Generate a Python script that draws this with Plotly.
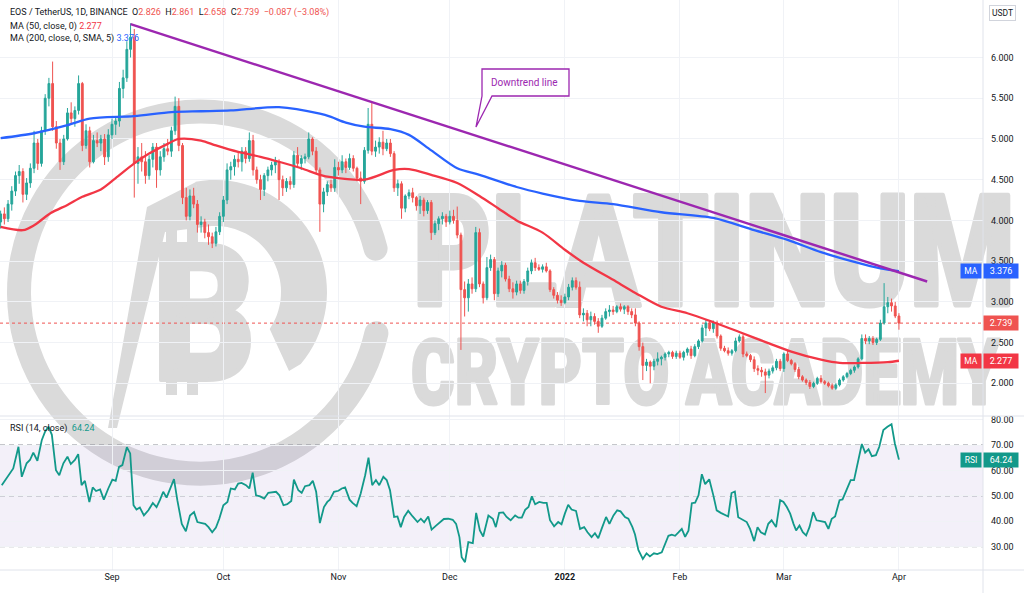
import base64
import numpy as np
import pandas as pd
import plotly.graph_objects as go

# ---------------- data ----------------
start_date = "2021-08-02"

opens = [3.98, 4.08, 4.02, 4.20, 4.36, 4.55, 4.60, 4.32, 4.46, 4.64,
         4.95, 4.70, 5.10, 5.50, 5.68, 5.15, 4.95, 4.72, 5.00, 5.32,
         5.25, 5.35, 5.68, 4.92, 5.10, 4.72, 4.98, 4.95, 5.00, 4.78,
         5.05, 5.18, 5.22, 5.62, 5.75, 6.10, 6.25, 4.70, 4.78, 4.72,
         4.55, 4.75, 4.90, 4.62, 4.78, 4.88, 4.85, 5.10, 5.40, 4.92,
         4.28, 4.05, 4.30, 4.20, 3.95, 3.98, 3.85, 3.80, 3.72, 3.86,
         4.05, 4.25, 4.62, 4.66, 4.75, 4.72, 4.85, 4.76, 4.98, 4.62,
         4.50, 4.38, 4.55, 4.62, 4.68, 4.72, 4.50, 4.40, 4.48, 4.44,
         4.80, 4.70, 4.76, 4.78, 5.00, 4.85, 4.62, 4.20, 4.35, 4.44,
         4.40, 4.65, 4.62, 4.72, 4.65, 4.76, 4.64, 4.52, 4.48, 4.86,
         5.18, 4.85, 4.90, 4.96, 4.88, 4.95, 4.82, 4.40, 4.45, 4.15,
         4.30, 4.34, 4.28, 4.18, 4.25, 4.12, 4.22, 3.85, 3.96, 4.02,
         4.05, 3.98, 4.05, 4.00, 3.82, 3.15, 3.05, 3.22, 3.16, 3.85,
         3.22, 3.05, 3.42, 3.52, 3.10, 3.38, 3.45, 3.28, 3.16, 3.12,
         3.22, 3.14, 3.25, 3.38, 3.48, 3.42, 3.40, 3.43, 3.38, 3.15,
         3.08, 3.02, 2.99, 3.06, 3.18, 3.26, 3.18, 2.84, 2.86, 2.78,
         2.82, 2.76, 2.70, 2.80, 2.88, 2.90, 2.88, 2.94, 2.91, 2.94,
         2.88, 2.84, 2.74, 2.45, 2.22, 2.26, 2.21, 2.27, 2.30, 2.32,
         2.36, 2.38, 2.33, 2.37, 2.32, 2.38, 2.42, 2.34, 2.45, 2.52,
         2.68, 2.74, 2.67, 2.74, 2.58, 2.43, 2.40, 2.37, 2.40, 2.52,
         2.57, 2.36, 2.34, 2.29, 2.18, 2.16, 2.14, 2.10, 2.15, 2.19,
         2.27, 2.18, 2.36, 2.28, 2.24, 2.17, 2.08, 2.04, 2.01, 1.96,
         2.00, 2.06, 2.02, 2.00, 1.97, 1.94, 1.98, 2.04, 2.08, 2.12,
         2.16, 2.20, 2.30, 2.55, 2.52, 2.55, 2.50, 2.54, 2.74, 2.94,
         2.99, 2.95, 2.826]

highs = [4.12, 4.16, 4.25, 4.42, 4.60, 4.68, 4.64, 4.52, 4.70, 5.10,
         5.00, 5.15, 5.55, 5.75, 5.95, 5.22, 5.00, 5.05, 5.38, 5.45,
         5.40, 5.78, 5.70, 5.18, 5.15, 5.05, 5.08, 5.05, 5.06, 5.12,
         5.25, 5.28, 5.70, 5.85, 6.20, 6.42, 6.35, 4.90, 4.95, 4.85,
         4.80, 4.95, 4.95, 4.85, 4.95, 5.00, 5.15, 5.52, 5.50, 4.95,
         4.40, 4.38, 4.40, 4.25, 4.05, 4.02, 3.95, 3.85, 3.92, 4.10,
         4.30, 4.70, 4.72, 4.80, 4.85, 4.90, 4.90, 5.08, 5.05, 4.66,
         4.56, 4.58, 4.66, 4.72, 4.78, 4.75, 4.55, 4.52, 4.54, 4.85,
         4.90, 4.80, 4.82, 5.08, 5.02, 4.90, 4.65, 4.40, 4.48, 4.50,
         4.75, 4.72, 4.80, 4.76, 4.82, 4.80, 4.66, 4.60, 4.90, 5.38,
         5.44, 4.98, 5.02, 5.10, 5.00, 5.00, 4.85, 4.50, 4.48, 4.32,
         4.38, 4.40, 4.30, 4.30, 4.28, 4.25, 4.25, 4.00, 4.05, 4.10,
         4.08, 4.12, 4.13, 4.17, 3.85, 3.25, 3.28, 3.30, 3.92, 3.90,
         3.25, 3.55, 3.58, 3.55, 3.42, 3.50, 3.48, 3.32, 3.24, 3.26,
         3.26, 3.28, 3.42, 3.52, 3.54, 3.46, 3.46, 3.48, 3.40, 3.18,
         3.12, 3.08, 3.10, 3.22, 3.30, 3.30, 3.25, 2.92, 2.90, 2.88,
         2.86, 2.80, 2.84, 2.92, 2.96, 2.95, 2.96, 2.98, 2.96, 2.96,
         2.92, 2.92, 2.76, 2.50, 2.30, 2.28, 2.30, 2.38, 2.34, 2.38,
         2.40, 2.40, 2.40, 2.40, 2.40, 2.44, 2.46, 2.48, 2.54, 2.72,
         2.78, 2.76, 2.77, 2.77, 2.60, 2.46, 2.44, 2.42, 2.56, 2.60,
         2.60, 2.39, 2.36, 2.33, 2.22, 2.20, 2.18, 2.18, 2.22, 2.30,
         2.30, 2.38, 2.40, 2.30, 2.26, 2.20, 2.10, 2.06, 2.04, 2.02,
         2.08, 2.10, 2.04, 2.02, 2.00, 2.00, 2.06, 2.10, 2.14, 2.18,
         2.22, 2.32, 2.60, 2.60, 2.58, 2.58, 2.56, 2.78, 3.23, 3.06,
         3.04, 3.00, 2.861]

lows = [3.90, 3.95, 3.98, 4.12, 4.30, 4.45, 4.22, 4.25, 4.40, 4.58,
        4.62, 4.66, 5.05, 5.40, 5.10, 4.88, 4.62, 4.68, 4.98, 5.18,
        5.15, 5.30, 4.85, 4.88, 4.65, 4.70, 4.90, 4.85, 4.68, 4.72,
        5.00, 5.05, 5.15, 5.50, 5.70, 6.00, 4.28, 4.45, 4.60, 4.45,
        4.50, 4.65, 4.40, 4.55, 4.72, 4.80, 4.78, 5.05, 4.85, 4.20,
        4.00, 4.00, 4.15, 3.85, 3.85, 3.78, 3.70, 3.66, 3.68, 3.82,
        3.98, 4.20, 4.50, 4.55, 4.65, 4.60, 4.70, 4.72, 4.55, 4.45,
        4.25, 4.30, 4.48, 4.55, 4.58, 4.25, 4.30, 4.35, 4.38, 4.40,
        4.65, 4.62, 4.70, 4.75, 4.80, 4.58, 3.86, 4.10, 4.30, 4.35,
        4.35, 4.55, 4.58, 4.58, 4.62, 4.60, 4.48, 4.20, 4.45, 4.82,
        4.80, 4.78, 4.82, 4.80, 4.85, 4.78, 4.35, 4.30, 4.02, 4.10,
        4.26, 4.22, 4.12, 4.08, 4.05, 4.08, 3.76, 3.82, 3.88, 3.95,
        3.92, 3.95, 3.96, 3.78, 2.41, 2.82, 2.88, 3.10, 3.12, 3.18,
        2.98, 3.02, 3.38, 3.02, 3.06, 3.30, 3.25, 3.12, 3.04, 3.08,
        3.10, 3.10, 3.20, 3.34, 3.38, 3.38, 3.36, 3.36, 3.12, 3.04,
        2.98, 2.95, 2.97, 3.02, 3.14, 3.15, 2.80, 2.76, 2.70, 2.70,
        2.72, 2.62, 2.68, 2.78, 2.82, 2.84, 2.86, 2.88, 2.85, 2.84,
        2.80, 2.70, 2.40, 2.04, 2.15, 2.00, 2.16, 2.22, 2.22, 2.28,
        2.32, 2.30, 2.30, 2.30, 2.28, 2.34, 2.30, 2.32, 2.42, 2.50,
        2.58, 2.64, 2.62, 2.55, 2.40, 2.38, 2.34, 2.34, 2.38, 2.50,
        2.32, 2.32, 2.26, 2.14, 2.10, 2.08, 1.88, 2.06, 2.12, 2.16,
        2.15, 2.14, 2.26, 2.22, 2.14, 2.05, 2.02, 1.98, 1.93, 1.94,
        1.98, 2.00, 1.98, 1.95, 1.92, 1.92, 1.96, 2.02, 2.06, 2.10,
        2.13, 2.18, 2.28, 2.48, 2.48, 2.47, 2.47, 2.52, 2.72, 2.86,
        2.88, 2.80, 2.658]

closes = [4.08, 4.02, 4.20, 4.36, 4.55, 4.60, 4.32, 4.46, 4.64, 4.95,
          4.70, 5.10, 5.50, 5.68, 5.15, 4.95, 4.72, 5.00, 5.32, 5.25,
          5.35, 5.68, 4.92, 5.10, 4.72, 4.98, 4.95, 5.00, 4.78, 5.05,
          5.18, 5.22, 5.62, 5.75, 6.10, 6.25, 4.70, 4.78, 4.72, 4.55,
          4.75, 4.90, 4.62, 4.78, 4.88, 4.85, 5.10, 5.40, 4.92, 4.28,
          4.05, 4.30, 4.20, 3.95, 3.98, 3.85, 3.80, 3.72, 3.86, 4.05,
          4.25, 4.62, 4.66, 4.75, 4.72, 4.85, 4.76, 4.98, 4.62, 4.50,
          4.38, 4.55, 4.62, 4.68, 4.72, 4.50, 4.40, 4.48, 4.44, 4.80,
          4.70, 4.76, 4.78, 5.00, 4.85, 4.62, 4.20, 4.35, 4.44, 4.40,
          4.65, 4.62, 4.72, 4.65, 4.76, 4.64, 4.52, 4.48, 4.86, 5.18,
          4.85, 4.90, 4.96, 4.88, 4.95, 4.82, 4.40, 4.45, 4.15, 4.30,
          4.34, 4.28, 4.18, 4.25, 4.12, 4.22, 3.85, 3.96, 4.02, 4.05,
          3.98, 4.05, 4.00, 3.82, 3.15, 3.05, 3.22, 3.16, 3.85, 3.22,
          3.05, 3.42, 3.52, 3.10, 3.38, 3.45, 3.28, 3.16, 3.12, 3.22,
          3.14, 3.25, 3.38, 3.48, 3.42, 3.40, 3.43, 3.38, 3.15, 3.08,
          3.02, 2.99, 3.06, 3.18, 3.26, 3.18, 2.84, 2.86, 2.78, 2.82,
          2.76, 2.70, 2.80, 2.88, 2.90, 2.88, 2.94, 2.91, 2.94, 2.88,
          2.84, 2.74, 2.45, 2.22, 2.26, 2.21, 2.27, 2.30, 2.32, 2.36,
          2.38, 2.33, 2.37, 2.32, 2.38, 2.42, 2.34, 2.45, 2.52, 2.68,
          2.74, 2.67, 2.74, 2.58, 2.43, 2.40, 2.37, 2.40, 2.52, 2.57,
          2.36, 2.34, 2.29, 2.18, 2.16, 2.14, 2.10, 2.15, 2.19, 2.27,
          2.18, 2.36, 2.28, 2.24, 2.17, 2.08, 2.04, 2.01, 1.96, 2.00,
          2.06, 2.02, 2.00, 1.97, 1.94, 1.98, 2.04, 2.08, 2.12, 2.16,
          2.20, 2.30, 2.55, 2.52, 2.55, 2.50, 2.54, 2.74, 2.94, 2.99,
          2.95, 2.826, 2.739]

# moving averages, sampled along the drawn curves (day offset from start_date, value)
ma50_day = [0, 6, 9, 13.5, 18, 22, 27, 31, 36, 40, 45, 48, 54, 58, 64, 70, 75, 81, 86, 89,
            98, 106, 110, 116, 123, 129, 134, 139, 146, 152, 157, 165, 171, 178, 185, 192,
            199, 207, 213, 221, 226, 232, 239, 242]
ma50_val = [3.92, 3.88, 3.94, 4.09, 4.19, 4.29, 4.38, 4.52, 4.70, 4.82, 4.94, 5.00, 4.98, 4.92,
            4.84, 4.78, 4.72, 4.64, 4.56, 4.53, 4.50, 4.62, 4.63, 4.56, 4.46, 4.30, 4.15, 4.00,
            3.85, 3.64, 3.48, 3.27, 3.11, 2.94, 2.86, 2.75, 2.63, 2.49, 2.39, 2.29, 2.25, 2.25,
            2.26, 2.277]

ma200_day = [0, 9, 18, 24, 36, 46, 54, 62, 75, 86, 89, 93, 98, 105, 110, 116, 123, 129, 139,
             146, 156, 165, 178, 192, 203, 212, 221, 230, 237, 242]
ma200_val = [5.01, 5.07, 5.17, 5.25, 5.28, 5.33, 5.34, 5.35, 5.39, 5.31, 5.27, 5.20, 5.15, 5.12,
             5.05, 4.86, 4.64, 4.56, 4.41, 4.33, 4.24, 4.20, 4.10, 4.03, 3.88, 3.76, 3.61, 3.49,
             3.41, 3.376]

# RSI(14) line, sampled along the drawn curve
rsi_day = [0.3, 1.6, 3.4, 4.8, 5.7, 7.0, 7.9, 8.8, 9.9, 11.1,
           12.0, 12.9, 13.8, 14.9, 15.8, 16.9, 18.0, 18.9, 20.0, 20.9,
           21.8, 22.7, 23.9, 24.8, 25.7, 26.8, 27.8, 29.0, 30.1, 31.0,
           31.9, 32.8, 34.0, 34.9, 35.8, 36.6, 37.5, 38.6, 39.8, 41.0,
           42.0, 42.9, 43.8, 44.7, 45.6, 46.7, 47.6, 48.8, 49.9, 51.0,
           52.1, 53.0, 54.2, 55.1, 56.0, 57.0, 58.0, 58.9, 60.0, 61.1,
           62.0, 63.1, 64.0, 64.9, 66.1, 67.0, 67.9, 68.8, 69.9, 71.0,
           72.1, 73.3, 74.2, 75.1, 76.2, 77.2, 78.3, 79.0, 80.2, 81.1,
           82.0, 83.2, 84.1, 85.0, 86.0, 87.1, 88.0, 88.7, 89.8, 91.0,
           91.9, 92.8, 94.0, 94.8, 95.9, 97.0, 98.2, 99.1, 100.1, 101.1,
           102.0, 103.1, 104.0, 104.9, 106.0, 106.9, 107.8, 108.7, 109.8, 111.0,
           112.3, 113.2, 114.1, 115.2, 116.1, 117.3, 118.4, 119.4, 120.6, 121.8,
           122.7, 123.6, 124.2, 125.1, 126.0, 127.2, 128.1, 129.1, 130.0, 131.4,
           132.6, 133.4, 134.3, 135.4, 136.3, 137.4,
           138.6, 139.5, 140.4, 141.3, 142.2, 143.1, 144.0, 145.1, 146.2, 147.1,
           148.0, 149.1, 150.2, 151.1, 152.0, 152.9, 153.8, 155.0, 156.1, 157.2,
           158.1, 159.2, 160.1, 161.0, 161.9, 163.1, 164.0, 165.1, 166.1, 167.0,
           168.2, 169.1, 170.2, 170.9, 171.8, 173.0, 174.0, 174.9, 176.0, 176.9,
           178.1, 179.0, 179.9, 180.8, 181.7, 182.6, 183.5, 184.4, 185.3, 186.2,
           187.1, 188.0, 188.9, 189.8, 190.9, 192.0, 192.9, 194.0, 194.9, 196.0,
           196.9, 197.8, 198.7, 199.9, 201.0, 201.9, 203.0, 203.9, 204.8, 205.9,
           206.8, 207.7, 208.9, 210.0, 210.9, 211.8, 212.7, 213.6, 214.3, 215.2,
           216.1, 217.0, 217.9, 218.9, 219.8, 220.9, 222.1, 223.0, 223.9, 224.8,
           226.0, 226.8, 227.9, 229.0, 229.9, 230.8, 232.0, 232.9, 233.8, 234.7,
           235.8, 236.7, 237.8, 238.9, 240.0, 240.9, 242.0]
rsi_val = [54.2, 56.8, 60.8, 69.3, 57.5, 62.8, 64.1, 67.0, 63.8, 72.0,
           75.3, 77.2, 74.0, 60.1, 58.1, 62.8, 65.4, 62.5, 64.1, 66.4,
           54.2, 55.9, 47.6, 53.3, 51.9, 52.5, 48.5, 52.9, 56.4, 55.9,
           61.4, 62.1, 69.1, 66.7, 46.3, 44.6, 45.4, 42.3, 44.3, 47.2,
           45.6, 48.3, 51.6, 49.3, 52.9, 56.6, 48.3, 39.0, 36.1, 42.3,
           43.6, 39.7, 39.3, 39.0, 37.7, 35.7, 37.5, 41.0, 46.3, 47.6,
           52.9, 52.5, 54.8, 55.1, 54.2, 52.9, 59.1, 50.2, 49.8, 48.9,
           51.2, 51.6, 51.6, 50.2, 46.3, 46.7, 48.0, 56.4, 52.2, 51.2,
           53.8, 54.2, 55.9, 51.6, 39.3, 45.6, 47.6, 48.5, 51.6, 52.0,
           52.9, 53.3, 48.5, 47.2, 45.9, 50.9, 58.1, 65.0, 54.2, 56.2,
           54.2, 57.5, 56.2, 52.2, 41.7, 41.9, 37.7, 41.7, 44.1, 41.9,
           39.7, 41.0, 39.6, 41.9, 36.7, 38.3, 39.7, 40.9, 41.0, 40.6,
           39.0, 33.8, 25.9, 23.9, 31.8, 31.4, 43.3, 36.4, 34.0, 42.3,
           41.0, 37.7, 43.3, 43.5, 41.7, 40.4,
           42.3, 41.4, 41.4, 44.5, 45.6, 49.8, 46.7, 47.6, 47.2, 47.2,
           40.4, 38.0, 39.7, 38.8, 43.0, 46.5, 44.6, 44.1, 37.0, 37.7,
           35.7, 33.8, 35.3, 33.3, 37.0, 41.7, 39.0, 42.3, 44.3, 43.9,
           41.7, 41.0, 37.7, 34.8, 28.7, 25.2, 27.4, 26.2, 27.4, 27.1,
           27.8, 31.0, 34.3, 34.7, 34.3, 35.6, 37.0, 33.9, 36.3, 47.1,
           47.3, 50.2, 58.5, 54.6, 56.5, 50.2, 44.3, 43.3, 42.7, 41.9,
           51.1, 51.7, 41.6, 40.6, 39.7, 37.0, 32.2, 37.7, 35.7, 34.8,
           39.0, 40.4, 37.7, 48.3, 47.6, 45.6, 43.0, 39.0, 36.4, 38.3,
           35.7, 34.4, 37.7, 43.6, 40.4, 40.1, 39.7, 37.0, 41.0, 41.9,
           48.3, 48.6, 52.2, 56.2, 56.2, 62.8, 70.4, 67.0, 68.3, 65.6,
           66.0, 69.3, 75.9, 77.2, 78.2, 70.6, 64.24]

# hand-drawn downtrend line (two anchor points: day offset, price)
trend_day = [35.0, 249.6]
trend_price = [6.41, 3.25]

price_ticks = [2.0, 2.5, 3.0, 3.5, 4.0, 4.5, 5.0, 5.5, 6.0]
rsi_ticks = [30, 40, 50, 60, 70, 80]
rsi_levels = [30, 50, 70]
month_ticks = ["2021-09-01", "2021-10-01", "2021-11-01", "2021-12-01",
               "2022-01-01", "2022-02-01", "2022-03-01", "2022-04-01"]
month_labels = ["Sep", "Oct", "Nov", "Dec", "<b>2022</b>", "Feb", "Mar", "Apr"]

# ---------------- layout geometry ----------------
W, H = 1024, 593
ML, MR, MT, MB = 0, 41, 0, 23
PW, PH = W - ML - MR, H - MT - MB
PANE_SPLIT = 416  # pixel row of the separator between price and RSI panes


def px(x):
    return x / PW


def py(y):
    return 1 - y / PH


start = pd.Timestamp(start_date)
dates = pd.date_range(start, periods=len(closes), freq="D")


def to_dates(days):
    return [start + pd.Timedelta(days=float(d)) for d in days]


UP, DOWN = "#26a69a", "#ef5350"
MA50_C, MA200_C, RSI_C, TREND_C = "#f23645", "#2962ff", "#12998a", "#9c27b0"
TXT = "#131722"
GRID = "#f0f2f6"
FONT = "Roboto, Noto Sans, sans-serif"

fig = go.Figure()

fig.add_trace(go.Candlestick(
    x=dates, open=opens, high=highs, low=lows, close=closes,
    increasing=dict(line=dict(color=UP, width=1), fillcolor=UP),
    decreasing=dict(line=dict(color=DOWN, width=1), fillcolor=DOWN),
    whiskerwidth=0, xaxis="x", yaxis="y", showlegend=False, hoverinfo="skip"))

fig.add_trace(go.Scatter(x=to_dates(ma200_day), y=ma200_val, mode="lines",
                         line=dict(color=MA200_C, width=2.3, shape="spline", smoothing=0.8),
                         xaxis="x", yaxis="y", showlegend=False, hoverinfo="skip"))
fig.add_trace(go.Scatter(x=to_dates(ma50_day), y=ma50_val, mode="lines",
                         line=dict(color=MA50_C, width=2.3, shape="spline", smoothing=0.8),
                         xaxis="x", yaxis="y", showlegend=False, hoverinfo="skip"))
fig.add_trace(go.Scatter(x=to_dates(trend_day), y=trend_price, mode="lines",
                         line=dict(color=TREND_C, width=2.4),
                         xaxis="x", yaxis="y", showlegend=False, hoverinfo="skip"))
fig.add_trace(go.Scatter(x=to_dates(rsi_day), y=rsi_val, mode="lines",
                         line=dict(color=RSI_C, width=1.8),
                         xaxis="x", yaxis="y2", showlegend=False, hoverinfo="skip"))

# ---------------- axes ----------------
p_per = (383.3 - 57.5) / 4.0           # pixels per price unit
price_top = 6.0 + 57.5 / p_per
price_bot = 2.0 - (PANE_SPLIT - 383.3) / p_per
r_per = (546.7 - 445.0) / 40.0          # pixels per RSI unit
rsi_top = 70 + (445.0 - PANE_SPLIT) / r_per
rsi_bot = 30 - (PH - 546.7) / r_per
split = 1 - PANE_SPLIT / PH

x_lo = start + pd.Timedelta(days=(0 - 0.64) / 3.712)
x_hi = start + pd.Timedelta(days=(PW - 0.64) / 3.712)

fig.update_layout(
    width=W, height=H, autosize=False,
    margin=dict(l=ML, r=MR, t=MT, b=MB, pad=0),
    paper_bgcolor="white", plot_bgcolor="rgba(0,0,0,0)",
    font=dict(family=FONT, size=9, color=TXT),
    showlegend=False, hovermode=False,
    xaxis=dict(domain=[0, 1], anchor="y2", type="date", range=[x_lo, x_hi],
               tickvals=month_ticks, ticktext=month_labels, showgrid=True,
               gridcolor=GRID, gridwidth=1, zeroline=False, showline=False, ticks="",
               tickfont=dict(size=9, color=TXT), rangeslider=dict(visible=False),
               automargin=False, fixedrange=True),
    yaxis=dict(domain=[split, 1], anchor="x", side="right", range=[price_bot, price_top],
               tickvals=price_ticks, ticktext=[f"{v:.3f}" for v in price_ticks],
               showgrid=True, gridcolor=GRID, zeroline=False, showline=False, ticks="",
               ticklabelstandoff=7, tickfont=dict(size=9, color=TXT), automargin=False),
    yaxis2=dict(domain=[0, split], anchor="x", side="right", range=[rsi_bot, rsi_top],
                tickvals=rsi_ticks, ticktext=[f"{v:.2f}" for v in rsi_ticks],
                showgrid=True, gridcolor=GRID, zeroline=False, showline=False, ticks="",
                ticklabelstandoff=7, tickfont=dict(size=9, color=TXT), automargin=False),
)

# ---------------- shapes ----------------
shapes = []
shapes.append(dict(type="rect", xref="paper", yref="y2", x0=0, x1=1, y0=rsi_levels[0],
                   y1=rsi_levels[-1], fillcolor="rgba(126,87,194,0.09)", line=dict(width=0),
                   layer="below"))
for lv in rsi_levels:
    shapes.append(dict(type="line", xref="paper", yref="y2", x0=0, x1=1, y0=lv, y1=lv,
                       line=dict(color="#8a8d96", width=1, dash="5px,4px"), layer="between"))
shapes.append(dict(type="line", xref="paper", yref="y", x0=0, x1=1, y0=closes[-1],
                   y1=closes[-1], line=dict(color=DOWN, width=1, dash="dot"), layer="between"))
# pane frames
shapes.append(dict(type="line", xref="paper", yref="paper", x0=0, x1=W / PW,
                   y0=split, y1=split, line=dict(color="#e0e3eb", width=1)))
shapes.append(dict(type="line", xref="paper", yref="paper", x0=0, x1=W / PW,
                   y0=0, y1=0, line=dict(color="#e0e3eb", width=1)))
shapes.append(dict(type="line", xref="paper", yref="paper", x0=1, x1=1,
                   y0=-MB / PH, y1=1, line=dict(color="#e0e3eb", width=1)))
# callout bubble for the downtrend line
bubble = [(482, 69), (569, 69), (569, 96), (492, 96), (476, 127), (482, 96)]
path = "M " + " L ".join(f"{px(a):.5f},{py(b):.5f}" for a, b in bubble) + " Z"
shapes.append(dict(type="path", xref="paper", yref="paper", path=path,
                   fillcolor="white", line=dict(color=TREND_C, width=1.3), layer="above"))
fig.update_layout(shapes=shapes)

# ---------------- annotations ----------------
ann = []


def label(x, y, text, size=9, color=TXT, **kw):
    d = dict(x=x, y=y, xref="paper", yref="paper", text=text, showarrow=False,
             xanchor="left", yanchor="middle", font=dict(size=size, color=color, family=FONT))
    d.update(kw)
    ann.append(d)


NB = "\u00a0"
o, h, l, c = opens[-1], highs[-1], lows[-1], closes[-1]
chg = c - closes[-2]
pct = chg / closes[-2] * 100


def red(t):
    return f"<span style='color:{DOWN}'>{t}</span>"


hdr = ("EOS / TetherUS, 1D, BINANCE" + NB * 2 + "O" + red(f"{o:.3f}") + NB * 2 + "H" + red(f"{h:.3f}")
       + NB * 2 + "L" + red(f"{l:.3f}") + NB * 2 + "C" + red(f"{c:.3f}") + NB * 2
       + red(f"\u2212{abs(chg):.3f} (\u2212{abs(pct):.2f}%)"))
label(px(8), py(13), hdr)
label(px(8), py(26), "MA (50, close, 0)" + NB + f"<span style='color:{MA50_C}'>{ma50_val[-1]:.3f}</span>")
label(px(8), py(39), "MA (200, close, 0, SMA, 5)" + NB + f"<span style='color:{MA200_C}'>{ma200_val[-1]:.3f}</span>")
label(px(8), py(428), "RSI (14, close)" + NB * 2 + f"<span style='color:{RSI_C}'>{rsi_val[-1]:.2f}</span>")

label(px(524), py(82), "Downtrend line", size=10, color=TREND_C, xanchor="center")

# USDT unit box
ann.append(dict(x=px(1003), y=py(13.5), xref="paper", yref="paper", text="USDT", showarrow=False,
                xanchor="center", yanchor="middle", font=dict(size=8.5, color=TXT, family=FONT),
                bordercolor="#d1d4dc", borderwidth=1, borderpad=2, bgcolor="white"))


def axis_tag(yref, yval, text, bg, tag=None):
    ann.append(dict(x=1, y=yval, xref="paper", yref=yref, text=text, showarrow=False,
                    xanchor="left", yanchor="middle", xshift=0, bgcolor=bg, width=32, height=12,
                    borderpad=1, font=dict(size=9, color="white", family=FONT)))
    if tag:
        ann.append(dict(x=1, y=yval, xref="paper", yref=yref, text=tag, showarrow=False,
                        xanchor="right", yanchor="middle", xshift=-1, bgcolor=bg, width=18,
                        height=12, borderpad=1, font=dict(size=8.5, color="white", family=FONT)))


axis_tag("y", ma200_val[-1], f"{ma200_val[-1]:.3f}", MA200_C, "MA")
axis_tag("y", closes[-1], f"{closes[-1]:.3f}", DOWN)
axis_tag("y", ma50_val[-1], f"{ma50_val[-1]:.3f}", MA50_C, "MA")
axis_tag("y2", rsi_val[-1], f"{rsi_val[-1]:.2f}", RSI_C, "RSI")
fig.update_layout(annotations=ann)

# ---------------- watermark (logo + text), drawn beneath the chart ----------------
WM = "#dadada"


def pt(cx, cy, r, deg):
    a = np.radians(deg)
    return cx + r * np.cos(a), cy + r * np.sin(a)


rx0, ry0 = pt(200, 292.5, 181, 13)
rx1, ry1 = pt(200, 292.5, 181, -14)
ring = (f'<path d="M{rx0:.1f},{ry0:.1f} A181,181 0 1,1 {rx1:.1f},{ry1:.1f}" fill="none" '
        f'stroke="{WM}" stroke-width="24" stroke-linecap="round"/>')
outer = [pt(215, 292, 112, a) for a in np.linspace(-100, 40, 40)]
inner = [pt(215, 292, 66, a) for a in np.linspace(34, -100, 40)]
dpts = outer + [(289, 371)] + inner
dshape = '<path d="M' + " L".join(f"{a:.1f},{b:.1f}" for a, b in dpts) + f' Z" fill="{WM}"/>'
leg = [(108, 428), (147, 207), (196, 182), (204, 227), (165, 232), (117, 428)]
legshape = '<path d="M' + " L".join(f"{a},{b}" for a, b in leg) + f' Z" fill="{WM}"/>'
btxt = (f'<text x="152" y="380" font-family="Roboto, DejaVu Sans, sans-serif" font-weight="900" '
        f'font-size="192" textLength="104" lengthAdjust="spacingAndGlyphs" fill="{WM}" '
        f'stroke="{WM}" stroke-width="4" stroke-linejoin="round">B</text>')
ticks = "".join(f'<rect x="{x}" y="{y}" width="11" height="18" fill="{WM}"/>'
                for x in (166, 187) for y in (224, 377))
t1 = (f'<text x="413" y="305" font-family="Roboto, DejaVu Sans, sans-serif" font-weight="900" '
      f'font-size="154" textLength="602" lengthAdjust="spacingAndGlyphs" fill="{WM}" '
      f'stroke="{WM}" stroke-width="5" stroke-linejoin="round">PLATINUM</text>')
t2 = (f'<text x="411" y="404" font-family="Roboto, DejaVu Sans, sans-serif" font-weight="900" '
      f'font-size="90" textLength="589" lengthAdjust="spacingAndGlyphs" fill="{WM}" '
      f'stroke="{WM}" stroke-width="3" stroke-linejoin="round">CRYPTO ACADEMY</text>')
svg = (f'<svg xmlns="http://www.w3.org/2000/svg" width="{W}" height="{H}" viewBox="0 0 {W} {H}">'
       + ring + dshape + legshape + btxt + ticks + t1 + t2 + '</svg>')
src = "data:image/svg+xml;base64," + base64.b64encode(svg.encode("utf-8")).decode("ascii")
fig.update_layout(images=[dict(source=src, xref="paper", yref="paper", x=0, y=1,
                               sizex=W / PW, sizey=H / PH, xanchor="left", yanchor="top",
                               sizing="stretch", layer="below")])

fig.write_html("out.html", include_plotlyjs=True, config={"displayModeBar": False},
               post_script="document.body.style.margin='0';document.body.style.overflow='hidden';")
